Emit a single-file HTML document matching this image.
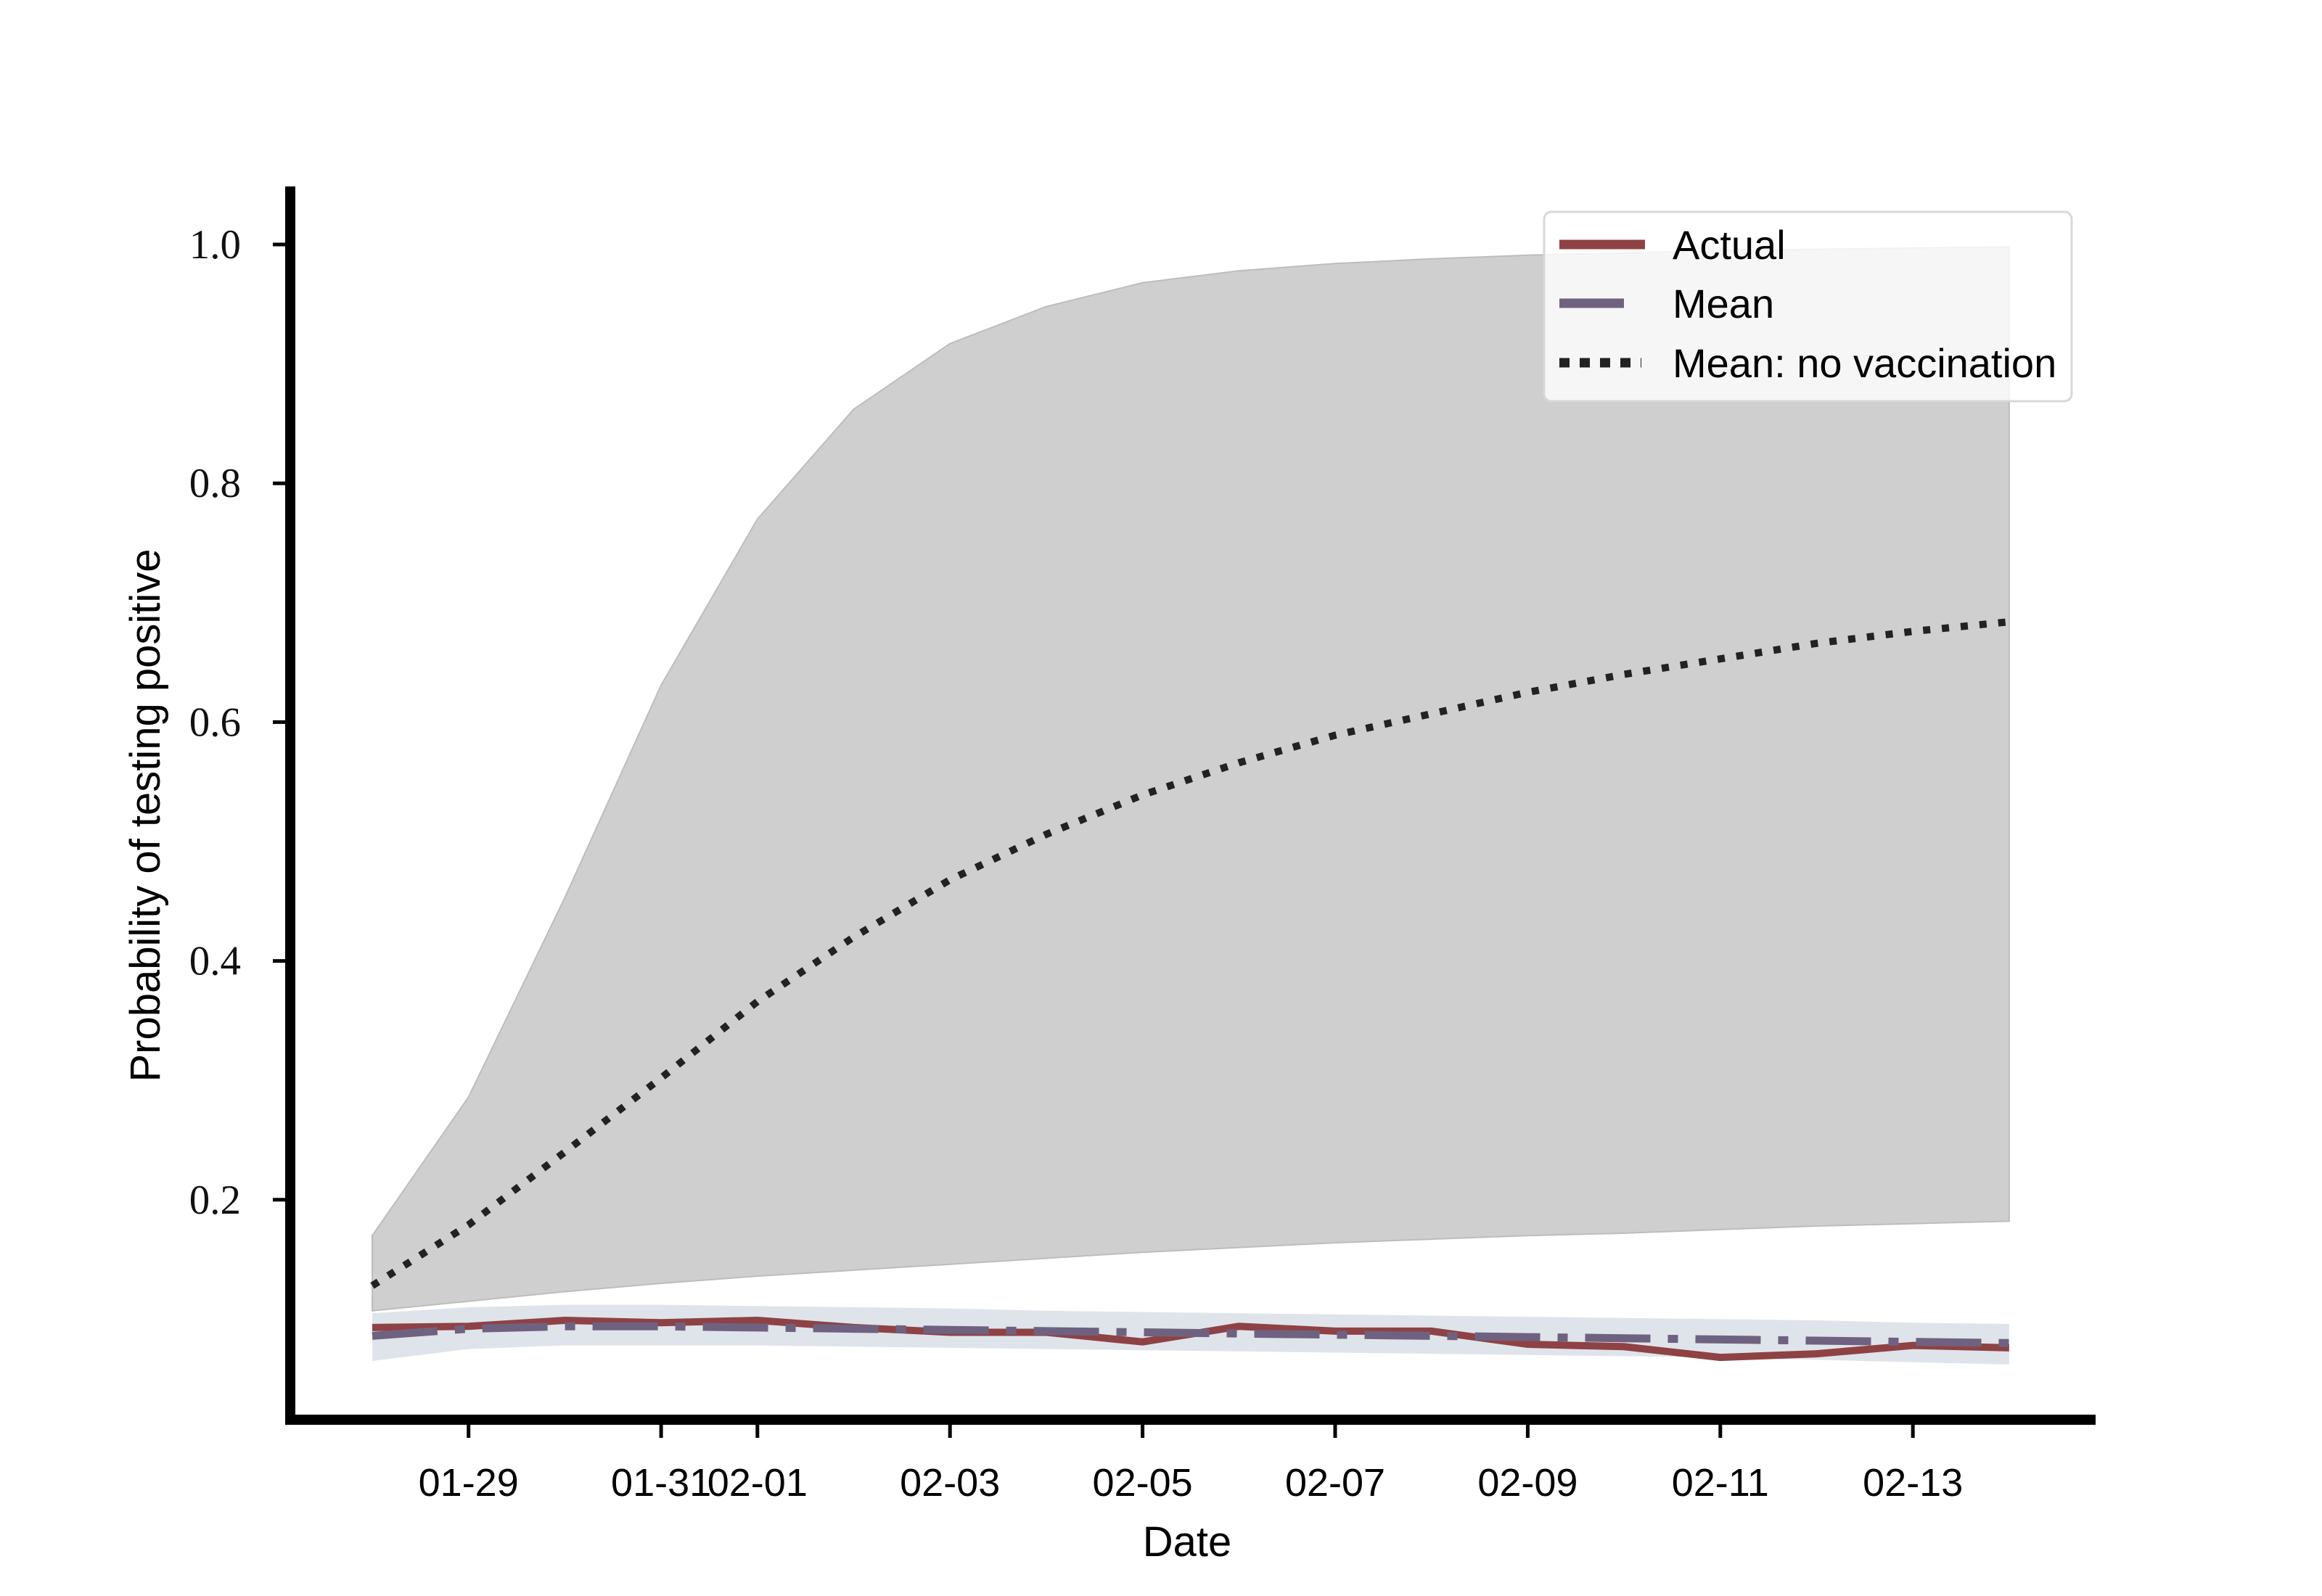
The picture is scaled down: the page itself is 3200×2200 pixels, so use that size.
<!DOCTYPE html>
<html><head><meta charset="utf-8"><style>
html,body{margin:0;padding:0;background:#fff}
svg{display:block}
</style></head><body>
<svg id="chart" width="3200" height="2200" viewBox="0 0 3200 2200" xmlns="http://www.w3.org/2000/svg">
<g id="plot"></g>
</svg>
<script>
const dates = ["01-28","01-29","01-30","01-31","02-01","02-02","02-03","02-04","02-05","02-06","02-07","02-08","02-09","02-10","02-11","02-12","02-13","02-14"];
const xTickLabels = ["01-29","01-31","02-01","02-03","02-05","02-07","02-09","02-11","02-13"];
const yTicks = [0.2,0.4,0.6,0.8,1.0];
const novacUpper = [0.170,0.286,0.453,0.631,0.770,0.862,0.917,0.948,0.968,0.978,0.984,0.988,0.991,0.993,0.995,0.996,0.997,0.998];
const novacLower = [0.107,0.115,0.123,0.130,0.136,0.141,0.146,0.151,0.156,0.160,0.164,0.167,0.170,0.172,0.175,0.178,0.180,0.182];
const novacMean = [0.128,0.179,0.240,0.302,0.366,0.420,0.468,0.506,0.539,0.566,0.589,0.607,0.625,0.640,0.653,0.666,0.676,0.684];
const actual = [0.093,0.094,0.099,0.097,0.099,0.093,0.089,0.089,0.081,0.094,0.090,0.090,0.079,0.077,0.068,0.071,0.078,0.076];
const meanVals = [0.086,0.092,0.094,0.094,0.093,0.092,0.091,0.090,0.089,0.088,0.087,0.086,0.085,0.084,0.083,0.082,0.081,0.080];
const bandUpper = [0.105,0.110,0.112,0.112,0.111,0.110,0.109,0.107,0.106,0.105,0.104,0.103,0.102,0.101,0.100,0.099,0.097,0.096];
const bandLower = [0.065,0.075,0.078,0.078,0.078,0.077,0.076,0.075,0.074,0.073,0.072,0.071,0.070,0.069,0.068,0.066,0.064,0.062];

const NS="http://www.w3.org/2000/svg";
const g=document.getElementById('plot');
const X0=513, DX=132.7;
function xScale(i){return X0+i*DX;}
function xOfDate(d){return xScale(dates.indexOf(d));}
function yScale(v){return 337+(1-v)*1646;}
function mk(tag,attrs){const e=document.createElementNS(NS,tag);for(const k in attrs)e.setAttribute(k,attrs[k]);g.appendChild(e);return e;}
function linePts(arr){return arr.map((v,i)=>xScale(i).toFixed(1)+','+yScale(v).toFixed(1)).join(' ');}
function areaPts(up,lo){const a=up.map((v,i)=>xScale(i).toFixed(1)+','+yScale(v).toFixed(1));const b=lo.map((v,i)=>xScale(i).toFixed(1)+','+yScale(v).toFixed(1)).reverse();return a.concat(b).join(' ');}

let e;
e=mk('polygon',{points:areaPts(novacUpper,novacLower),fill:'#cfcfcf',stroke:'#bdbdbd','stroke-width':2});


e=mk('polygon',{points:areaPts(bandUpper,bandLower),fill:'#c5cddb','fill-opacity':0.55,stroke:'none'});


e=mk('polyline',{points:linePts(novacMean),fill:'none',stroke:'#222','stroke-width':10,'stroke-dasharray':'10 16'});


e=mk('polyline',{points:linePts(actual),fill:'none',stroke:'#8e4244','stroke-width':10});


e=mk('polyline',{points:linePts(meanVals),fill:'none',stroke:'#6f6280','stroke-width':11,'stroke-dasharray':'90 24 14 24'});



// axes
e=mk('line',{x1:400,y1:257,x2:400,y2:1964,stroke:'#000','stroke-width':14});


e=mk('line',{x1:393,y1:1957,x2:2888,y2:1957,stroke:'#000','stroke-width':14});



yTicks.forEach(v=>{
  const y=yScale(v);
  let t=mk('line',{x1:376,y1:y,x2:400,y2:y,stroke:'#000','stroke-width':5});
  
  
  let l=mk('text',{x:332,y:y+19,'text-anchor':'end','font-family':'"Liberation Serif",serif','font-size':57,fill:'#111'});
  l.textContent=v.toFixed(1);
  
  
});
xTickLabels.forEach(d=>{
  const x=xOfDate(d);
  let t=mk('line',{x1:x,y1:1957,x2:x,y2:1982,stroke:'#000','stroke-width':5});
  
  
  let l=mk('text',{x:x,y:2062,'text-anchor':'middle','font-family':'"Liberation Sans",sans-serif','font-size':54,fill:'#000'});
  l.textContent=d;
  
  
});
e=mk('text',{x:1636,y:2145,'text-anchor':'middle','font-family':'"Liberation Sans",sans-serif','font-size':58,fill:'#000'});
e.textContent='Date';


e=mk('text',{x:0,y:0,'text-anchor':'middle','font-family':'"Liberation Sans",sans-serif','font-size':58,fill:'#000',transform:'translate(220,1124) rotate(-90)'});
e.textContent='Probability of testing positive';



// legend
e=mk('rect',{x:2128,y:292,width:727,height:261,rx:10,fill:'#fff','fill-opacity':0.8,stroke:'#d8d8d8','stroke-width':3});


const legendItems=[["Actual",337,'#8e4244','none'],["Mean",418,'#6f6280','none'],["Mean: no vaccination",500,'#222','14 14']];
legendItems.forEach(it=>{
  let ln=mk('line',{x1:2149,y1:it[1],x2:it[0]==='Actual'?2267:(it[0]==='Mean'?2238:2262),y2:it[1],stroke:it[2],'stroke-width':13,'stroke-dasharray':it[3]});
  
  
  let tx=mk('text',{x:2305,y:it[1]+20,'font-family':'"Liberation Sans",sans-serif','font-size':56,fill:'#000'});
  tx.textContent=it[0];
  
  
});
</script>
</body></html>
